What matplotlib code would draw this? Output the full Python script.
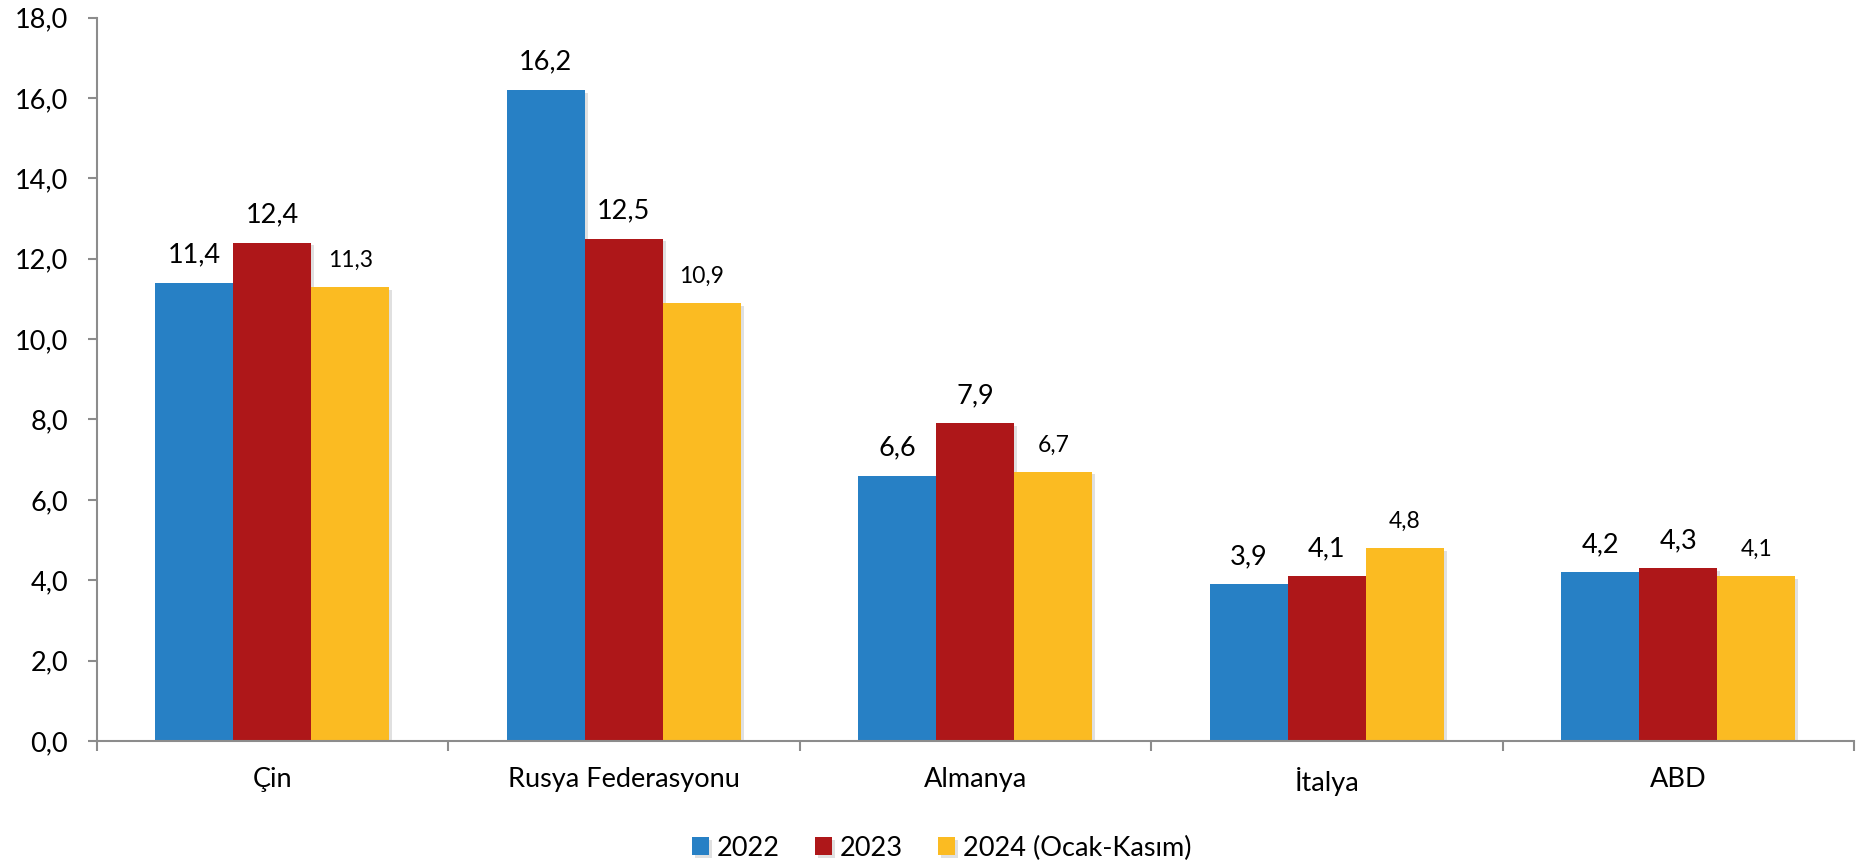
import numpy as np
import matplotlib

matplotlib.use("Agg")
import matplotlib.pyplot as plt
from matplotlib import patheffects
from matplotlib.ticker import FixedLocator

# --- data ---------------------------------------------------------------
countries = ["Çin", "Rusya Federasyonu", "Almanya", "İtalya", "ABD"]
series_names = ["2022", "2023", "2024 (Ocak-Kasım)"]
v2022 = [11.4, 16.2, 6.6, 3.9, 4.2]
v2023 = [12.4, 12.5, 7.9, 4.1, 4.3]
v2024 = [11.3, 10.9, 6.7, 4.8, 4.1]
y_ticks = [0, 2, 4, 6, 8, 10, 12, 14, 16, 18]

colors = ["#2780C5", "#AE1719", "#FBBB22"]
label_sizes = [19.5, 19.5, 16.5]
axis_grey = "#8C8C8C"
fs = 19.5

plt.rcParams["font.family"] = ["Lato", "DejaVu Sans"]

fig = plt.figure(figsize=(18.62, 8.63), dpi=100)
ax = fig.add_axes([0.0519, 0.1414, 0.9438, 0.8383])

x = np.arange(len(countries))
bar_w = 0.222
shadow = [patheffects.SimplePatchShadow(offset=(2, -2), shadow_rgbFace="#000000", alpha=0.12),
          patheffects.Normal()]

for i, (vals, name) in enumerate(zip([v2022, v2023, v2024], series_names)):
    pos = x + (i - 1) * bar_w
    bars = ax.bar(pos, vals, width=bar_w, color=colors[i], label=name,
                  linewidth=0, zorder=2)
    for b in bars:
        b.set_path_effects(shadow)
    for px, v in zip(pos, vals):
        ax.annotate(f"{v:.1f}".replace(".", ","), (px, v),
                    xytext=(0, 14.5), textcoords="offset points",
                    ha="center", va="baseline", fontsize=label_sizes[i],
                    color="black")

ax.set_xlim(-0.5, len(countries) - 0.5)
ax.set_ylim(0, 18)
ax.set_yticks(y_ticks)
ax.set_yticklabels([f"{t:.1f}".replace(".", ",") for t in y_ticks])

ax.set_xticks(x)
ax.set_xticklabels(countries)
ax.xaxis.set_minor_locator(FixedLocator(np.arange(-0.5, len(countries), 1.0)))
ax.tick_params(axis="x", which="major", length=0, pad=19, labelsize=fs)
ax.tick_params(axis="x", which="minor", length=7, width=1.5, color=axis_grey,
               direction="out")
ax.tick_params(axis="y", length=6.5, width=1.5, color=axis_grey, pad=14,
               labelsize=fs)

for side in ["top", "right"]:
    ax.spines[side].set_visible(False)
for side in ["left", "bottom"]:
    ax.spines[side].set_color(axis_grey)
    ax.spines[side].set_linewidth(1.5)
ax.spines["bottom"].set_zorder(3)

fig.legend(loc="center", bbox_to_anchor=(942 / 1862, 1 - 848 / 863),
           ncol=3, frameon=False, fontsize=fs, handlelength=0.62,
           handleheight=0.62, handletextpad=0.3, columnspacing=1.3)

fig.savefig("out.png", dpi=100)
